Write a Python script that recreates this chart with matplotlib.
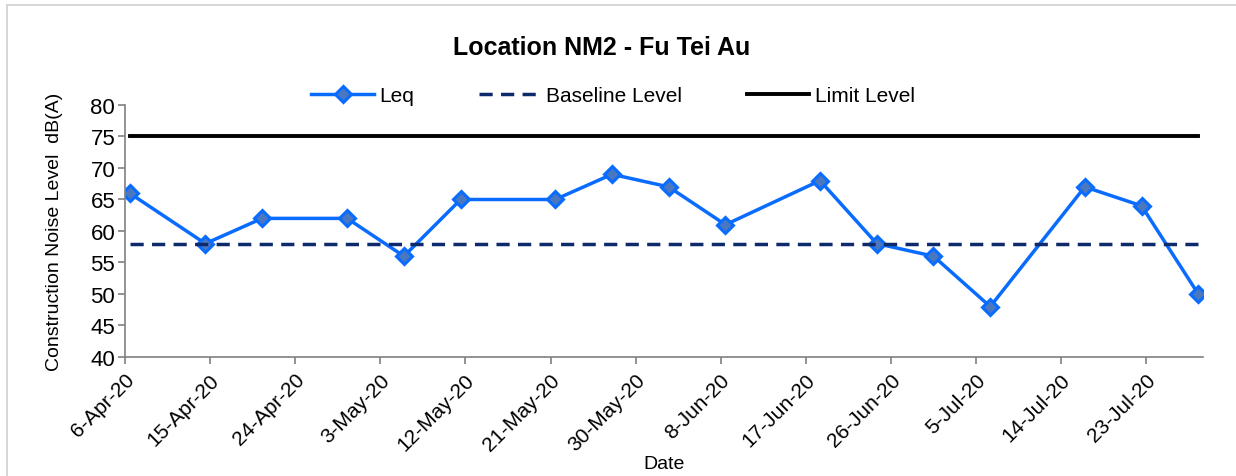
import datetime as dt
import matplotlib
matplotlib.use('Agg')
import matplotlib.pyplot as plt
import matplotlib.transforms as mtransforms

plt.rcParams['font.family'] = ['Liberation Sans', 'DejaVu Sans']

dates = ['2020-04-06', '2020-04-14', '2020-04-20', '2020-04-29', '2020-05-05',
         '2020-05-11', '2020-05-21', '2020-05-27', '2020-06-02', '2020-06-08',
         '2020-06-18', '2020-06-24', '2020-06-30', '2020-07-06', '2020-07-16',
         '2020-07-22', '2020-07-28']
leq = [66, 58, 62, 62, 56, 65, 65, 69, 67, 61, 68, 58, 56, 48, 67, 64, 50]
baseline = [58] * len(dates)
limit = [75] * len(dates)

# excel date axis puts each point in the middle of its day slot
X = [dt.datetime.strptime(d, '%Y-%m-%d') + dt.timedelta(hours=12) for d in dates]

fig = plt.figure(figsize=(12.36, 4.77), dpi=100)
ax = fig.add_axes([0.1011, 0.2495, 0.8722, 0.5283])

l1, = ax.plot(X, leq, color='#0a6cff', lw=2.5, marker='D', ms=8,
              mfc='#4a78c0', mec='#0a6cff', mew=2.2, label='Leq')
l2, = ax.plot(X, baseline, color='#0d2a6b', lw=2.5, ls=(0, (3.8, 2.4)), label='Baseline Level')
l3, = ax.plot(X, limit, color='black', lw=2.8, label='Limit Level')

start = dt.datetime(2020, 4, 6)
ax.set_xlim(start, dt.datetime(2020, 7, 29))
ax.set_ylim(40, 80)
ax.set_yticks(range(40, 81, 5))
ticks = [start + dt.timedelta(days=9 * i) for i in range(13)]
ax.set_xticks(ticks)

for s in ['top', 'right']:
    ax.spines[s].set_visible(False)
for s in ['left', 'bottom']:
    ax.spines[s].set_color('#808080')
    ax.spines[s].set_linewidth(1.2)
ax.tick_params(direction='out', length=5, color='#808080', width=1.2)
ax.tick_params(axis='y', labelsize=16, pad=2)
ax.tick_params(axis='x', labelsize=15, pad=9)

ax.set_xticklabels([f'{t.day}-{t.strftime("%b")}-{t.strftime("%y")}' for t in ticks],
                   rotation=45, ha='right', va='center', rotation_mode='anchor')
# nudge the date labels right, like excel draws them
shift = mtransforms.ScaledTranslation(4.5 / 72, 0, fig.dpi_scale_trans)
for lab in ax.get_xticklabels():
    lab.set_transform(lab.get_transform() + shift)

ax.set_ylabel('Construction Noise Level  dB(A)', fontsize=14, labelpad=20)
ax.set_xlabel('Date', fontsize=14, labelpad=1)
fig.text(0.487, 0.899, 'Location NM2 - Fu Tei Au', fontsize=18, fontweight='bold',
         ha='center', va='center')

fig.legend(handles=[l1, l2, l3], loc='center', bbox_to_anchor=(0.496, 0.797), ncol=3,
           frameon=False, fontsize=15, handlelength=3.0, columnspacing=3.1, handletextpad=0.25)

# light gray chart border
fig.add_artist(plt.Line2D([0.006, 0.006], [0.0, 0.987], color='#d0d0d0', lw=1.2, transform=fig.transFigure))
fig.add_artist(plt.Line2D([0.006, 1.0], [0.987, 0.987], color='#d0d0d0', lw=1.2, transform=fig.transFigure))

fig.savefig('out.png', dpi=100)
